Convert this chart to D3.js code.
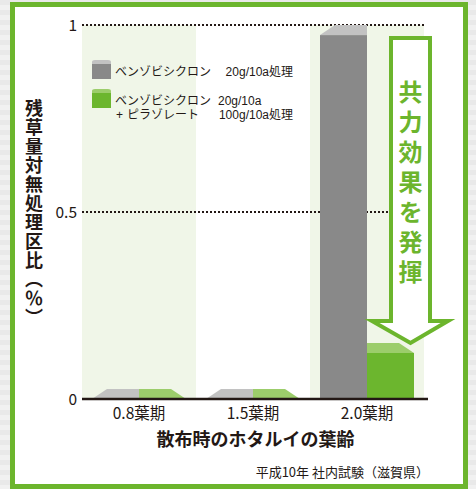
<!DOCTYPE html>
<html>
<head>
<meta charset="utf-8">
<script src="https://cdn.jsdelivr.net/npm/d3@7"></script>
<style>
  html, body { margin: 0; padding: 0; background: #ececec; }
  svg { display: block; }
  text { font-family: "Noto Sans CJK JP", "Noto Sans", sans-serif; fill: #231815; }
  text.legend { font-family: "Liberation Sans", "Noto Sans CJK JP", sans-serif; }
</style>
</head>
<body>
<svg id="chart" width="476" height="489"></svg>
<script>
// ---- data ----
const categories = ["0.8葉期", "1.5葉期", "2.0葉期"];
const seriesNames = ["ベンゾビシクロン単剤", "ベンゾビシクロン＋ピラゾレート"];
const singleValues = [0, 0, 0.973];     // ベンゾビシクロン 20g/10a処理
const mixValues    = [0, 0, 0.123];     // ベンゾビシクロン 20g/10a ＋ ピラゾレート 100g/10a処理
const yTicks = [0, 0.5, 1];
const yTickLabels = ["0", "0.5", "1"];
const shadedBands = [true, false, true];

const yTitle = "残草量対無処理区比（％）";
const xTitle = "散布時のホタルイの葉齢";
const note = "平成10年 社内試験（滋賀県）";
const arrowText = "共力効果を発揮";

const GREEN = "#6cb52d";
const svg = d3.select("#chart");

// background stripes
const defs = svg.append("defs");
const pat = defs.append("pattern").attr("id", "stripes").attr("patternUnits", "userSpaceOnUse")
  .attr("width", 10).attr("height", 10);
pat.append("rect").attr("width", 10).attr("height", 10).attr("fill", "#f1f1f1");
pat.append("rect").attr("width", 10).attr("height", 5).attr("fill", "#e9e9e9");
svg.append("rect").attr("width", 476).attr("height", 489).attr("fill", "url(#stripes)");

// frame
svg.append("rect").attr("x", 12.5).attr("y", 4.5).attr("width", 453).attr("height", 482)
  .attr("fill", "#fff").attr("stroke", GREEN).attr("stroke-width", 5);

// scales
const x = d3.scaleBand().domain(categories).range([82, 424]).paddingInner(0).paddingOuter(0);
const x1 = d3.scaleBand().domain(seriesNames).range([10, x.bandwidth() - 10]).padding(0);
const y = d3.scaleLinear().domain([0, 1]).range([399, 25]);

// shaded bands
svg.append("g").selectAll("rect").data(categories.filter((c, i) => shadedBands[i])).join("rect")
  .attr("x", d => x(d)).attr("width", x.bandwidth())
  .attr("y", y(1)).attr("height", y(0) - y(1))
  .attr("fill", "#f0f6e8");

// dotted grid lines
svg.append("g").selectAll("line").data(yTicks.filter(v => v > 0)).join("line")
  .attr("x1", x.range()[0]).attr("x2", x.range()[1] + 2)
  .attr("y1", d => y(d)).attr("y2", d => y(d))
  .attr("stroke", "#231815").attr("stroke-width", 2).attr("stroke-dasharray", "2,2");

// bars
const depth = 10, slant = 15;
const bw = x1.bandwidth();
const gBars = svg.append("g");
categories.forEach((c, i) => {
  const gx = x(c) + x1(seriesNames[0]);
  const mx = x(c) + x1(seriesNames[1]);
  const gy = y(singleValues[i]);
  const my = y(mixValues[i]);
  // single (gray)
  gBars.append("rect").attr("x", gx).attr("y", gy).attr("width", bw).attr("height", y(0) - gy)
    .attr("fill", "#898989");
  gBars.append("polygon")
    .attr("points", [[gx, gy], [gx + slant, gy - depth], [gx + bw, gy - depth], [gx + bw, gy]].join(" "))
    .attr("fill", "#c2c2c2");
  // mix (green)
  gBars.append("rect").attr("x", mx).attr("y", my).attr("width", bw).attr("height", y(0) - my)
    .attr("fill", "#6cb62e");
  gBars.append("polygon")
    .attr("points", [[mx, my], [mx, my - depth], [mx + bw - slant, my - depth], [mx + bw, my]].join(" "))
    .attr("fill", "#9ccd6b");
});

// y axis labels
const yAxis = d3.axisLeft(y).tickValues(yTicks).tickSize(0).tickPadding(0)
  .tickFormat((d, i) => yTickLabels[i]);
const gy = svg.append("g").attr("transform", "translate(77,0)").call(yAxis);
gy.select(".domain").remove();
gy.selectAll("text").attr("font-size", 15.5).attr("font-family", null).attr("fill", "#231815")
  .attr("dy", "0.36em");

// x axis
const xAxis = d3.axisBottom(x).tickSize(0).tickPadding(0);
const gx = svg.append("g").attr("transform", `translate(0,${y(0)})`).call(xAxis);
gx.select(".domain").remove();
gx.selectAll("text").attr("font-size", 15.5).attr("font-family", null).attr("fill", "#231815")
  .attr("y", 20).attr("dy", 0);

svg.append("line").attr("x1", x.range()[0]).attr("x2", x.range()[1] + 4)
  .attr("y1", y(0)).attr("y2", y(0)).attr("stroke", "#231815").attr("stroke-width", 2.5);

// arrow
const ax0 = 391, ax1 = 430, atop = 38, ahead = 321, aL = 372, aR = 448, atip = 343;
svg.append("polygon")
  .attr("points", [[ax0, atop], [ax1, atop], [ax1, ahead], [aR, ahead], [(ax0 + ax1) / 2, atip],
    [aL, ahead], [ax0, ahead]].join(" "))
  .attr("fill", "#fff").attr("stroke", GREEN).attr("stroke-width", 4).attr("stroke-linejoin", "miter");

svg.append("text").attr("x", (ax0 + ax1) / 2).attr("y", 80)
  .style("writing-mode", "vertical-rl")
  .attr("font-size", 24).attr("font-weight", "bold").attr("letter-spacing", 6)
  .style("fill", GREEN).text(arrowText);

// legend
const lg = svg.append("g");
function legendSwatch(y0, front, top) {
  lg.append("rect").attr("x", 92).attr("y", y0 + 4).attr("width", 19).attr("height", 15).attr("fill", front);
  lg.append("path").attr("d", `M92,${y0 + 4} L92,${y0 + 2} Q92,${y0} 95,${y0} L108,${y0} Q111,${y0} 111,${y0 + 2} L111,${y0 + 4} Z`)
    .attr("fill", top);
}
legendSwatch(60, "#898989", "#c2c2c2");
legendSwatch(89, "#6cb62e", "#9ccd6b");

const t1 = lg.append("text").attr("class", "legend").attr("y", 76).attr("font-size", 12);
t1.append("tspan").attr("x", 115).text("ベンゾビシクロン");
t1.append("tspan").attr("x", 293).attr("text-anchor", "end").text("20g/10a処理");
const t2 = lg.append("text").attr("class", "legend").attr("y", 105).attr("font-size", 12);
t2.append("tspan").attr("x", 115).text("ベンゾビシクロン");
t2.append("tspan").attr("x", 218).text("20g/10a");
const t3 = lg.append("text").attr("class", "legend").attr("y", 119).attr("font-size", 12);
t3.append("tspan").attr("x", 116).text("+");
t3.append("tspan").attr("x", 127).text("ピラゾレート");
t3.append("tspan").attr("x", 293).attr("text-anchor", "end").text("100g/10a処理");

// titles
svg.append("text").attr("x", 34).attr("y", 99)
  .style("writing-mode", "vertical-rl")
  .attr("font-size", 18).attr("font-weight", "bold").attr("letter-spacing", 1)
  .text(yTitle);

svg.append("text").attr("x", 255.5).attr("y", 446).attr("text-anchor", "middle")
  .attr("font-size", 18).attr("font-weight", "bold").text(xTitle);

svg.append("text").attr("x", 429).attr("y", 477).attr("text-anchor", "end")
  .attr("font-size", 13).text(note);
</script>
</body>
</html>
